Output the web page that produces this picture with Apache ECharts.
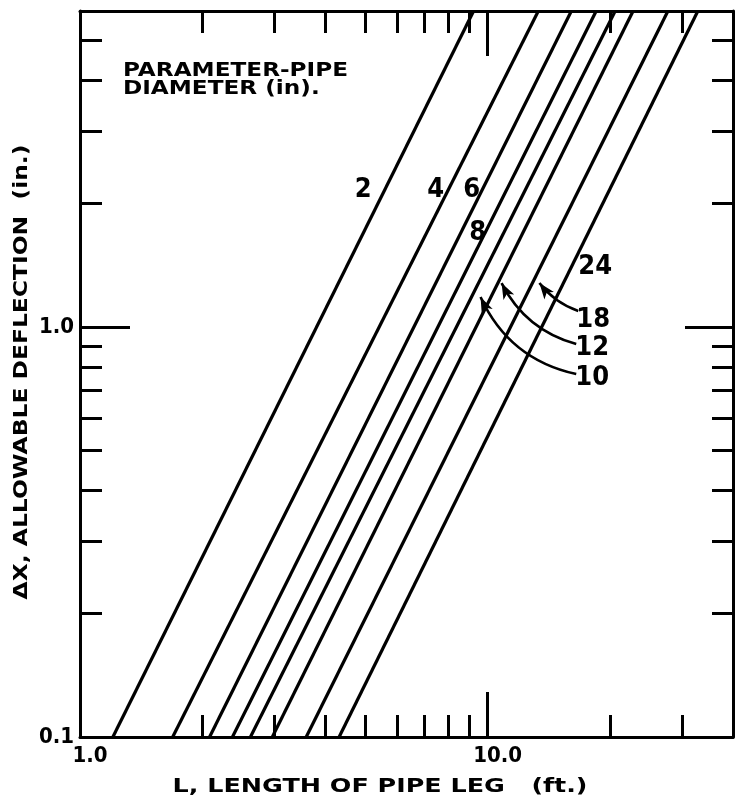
<!DOCTYPE html>
<html>
<head>
<meta charset="utf-8">
<script src="https://cdn.jsdelivr.net/npm/echarts@6/dist/echarts.min.js"></script>
<style>
  html, body { margin: 0; padding: 0; background: #ffffff; }
  #chart { width: 735px; height: 802px; }
</style>
</head>
<body>
<div id="chart"></div>
<script>
// Pipe diameter (in.) of each curve
const diameters = [2, 4, 6, 8, 10, 12, 18, 24];
// Pipe-leg length L (ft) where each curve crosses the lowest and highest deflection
const lengthAtMinDeflection = [1.204, 1.688, 2.079, 2.366, 2.619, 2.963, 3.589, 4.322];
const lengthAtMaxDeflection = [9.24, 13.32, 16.05, 18.47, 20.56, 22.75, 27.70, 32.8];
const deflectionRange = [0.1, 5.9];
const lengthRange = [1, 40];

// Tick marks and tick labels
const lengthMajorTicks = [10];
const lengthMinorTicks = [2, 3, 4, 5, 6, 7, 8, 9, 20, 30];
const lengthTickLabels = [1, 10];
const deflectionMajorTicks = [1];
const deflectionMinorTicks = [0.2, 0.3, 0.4, 0.5, 0.6, 0.7, 0.8, 0.9, 2, 3, 4, 5];
const deflectionTickLabels = [0.1, 1];

// Curve labels: [L, ΔX, text]
const curveLabels = [
  [4.95, 2.158, '2'],
  [7.46, 2.158, '4'],
  [9.14, 2.158, '6'],
  [9.45, 1.696, '8'],
  [18.37, 1.401, '24'],
  [18.16, 1.040, '18'],
  [18.06, 0.889, '12'],
  [18.06, 0.751, '10']
];
// Leader arrows from a label to its curve: start, tip, bend
const leaderStarts = [[16.69, 1.094], [16.5, 0.909], [16.5, 0.768]];
const leaderTips = [[13.40, 1.280], [10.82, 1.280], [9.61, 1.184]];
const leaderBends = [0.15, 0.22, 0.25];

const INK = '#000000';
const FONT = 'DejaVu Sans';
const NUM_FONT = '"DejaVu Sans Condensed", "DejaVu Sans"';

const chart = echarts.init(document.getElementById('chart'), null, { renderer: 'canvas' });

function logAxis(kind, position, ticks, tickLen, showLine, labels) {
  const isX = kind === 'x';
  const range = isX ? lengthRange : deflectionRange;
  return {
    type: 'log',
    logBase: 10,
    position: position,
    min: range[0],
    max: range[1],
    axisLine: { show: showLine, onZero: false, lineStyle: { color: INK, width: 3 } },
    axisTick: {
      show: true, inside: true, length: tickLen, customValues: ticks,
      lineStyle: { color: INK, width: 3 }
    },
    minorTick: { show: false },
    splitLine: { show: false },
    axisLabel: labels ? {
      show: true,
      customValues: labels,
      margin: isX ? 8 : 6,
      color: INK,
      fontFamily: NUM_FONT,
      fontWeight: 'bold',
      fontSize: 22,
      padding: isX ? [0, 0, 0, 20] : [0, 0, 4, 0],
      formatter: function (v) { return Number(v).toFixed(1); }
    } : { show: false }
  };
}

const curveSeries = diameters.map(function (d, i) {
  return {
    name: String(d),
    type: 'line',
    xAxisIndex: 0,
    yAxisIndex: 0,
    showSymbol: false,
    symbol: 'none',
    silent: true,
    clip: true,
    lineStyle: { color: INK, width: 3.2 },
    data: [
      [lengthAtMinDeflection[i], deflectionRange[0]],
      [lengthAtMaxDeflection[i], deflectionRange[1]]
    ]
  };
});

const option = {
  backgroundColor: '#ffffff',
  animation: false,
  grid: { left: 80, right: 2, top: 11, bottom: 65, containLabel: false, outerBoundsMode: 'none' },
  xAxis: [
    logAxis('x', 'bottom', lengthMajorTicks, 45, true, lengthTickLabels),
    logAxis('x', 'top', lengthMajorTicks, 45, true, null),
    logAxis('x', 'bottom', lengthMinorTicks, 22, false, null),
    logAxis('x', 'top', lengthMinorTicks, 22, false, null)
  ],
  yAxis: [
    logAxis('y', 'left', deflectionMajorTicks, 50, true, deflectionTickLabels),
    logAxis('y', 'right', deflectionMajorTicks, 48, true, null),
    logAxis('y', 'left', deflectionMinorTicks, 22, false, null),
    logAxis('y', 'right', deflectionMinorTicks, 21, false, null)
  ],
  series: curveSeries.concat([
    {
      type: 'lines',
      coordinateSystem: 'cartesian2d',
      xAxisIndex: 0,
      yAxisIndex: 0,
      silent: true,
      symbol: ['none', 'arrow'],
      symbolSize: [0, [9, 16]],
      lineStyle: { color: INK, width: 2.6, opacity: 1 },
      data: leaderStarts.map(function (s, i) {
        return { coords: [s, leaderTips[i]], lineStyle: { curveness: leaderBends[i] } };
      })
    },
    {
      type: 'scatter',
      xAxisIndex: 0,
      yAxisIndex: 0,
      silent: true,
      symbol: 'circle',
      symbolSize: 0,
      itemStyle: { color: INK },
      label: {
        show: true,
        position: [0, 0],
        align: 'center',
        verticalAlign: 'middle',
        color: INK,
        opacity: 1,
        textBorderWidth: 0,
        fontFamily: NUM_FONT,
        fontWeight: 'bold',
        fontSize: 27,
        formatter: function (p) { return p.value[2]; }
      },
      data: curveLabels
    }
  ]),
  graphic: [
    {
      type: 'text',
      left: 123, top: 62,
      scaleX: 1.22,
      style: {
        text: 'PARAMETER-PIPE\nDIAMETER (in).',
        fill: INK,
        font: 'bold 19px "' + FONT + '"',
        lineHeight: 18
      }
    },
    {
      type: 'text',
      x: 380, y: 787,
      scaleX: 1.27,
      style: {
        text: 'L, LENGTH OF PIPE LEG   (ft.)',
        fill: INK,
        font: 'bold 20px "' + FONT + '"',
        align: 'center',
        verticalAlign: 'middle'
      }
    },
    {
      type: 'text',
      x: 22, y: 372,
      rotation: Math.PI / 2,
      scaleX: 1.17,
      style: {
        text: 'ΔX, ALLOWABLE DEFLECTION  (in.)',
        fill: INK,
        font: 'bold 20px "' + FONT + '"',
        align: 'center',
        verticalAlign: 'middle'
      }
    }
  ]
};

chart.setOption(option);
</script>
</body>
</html>
